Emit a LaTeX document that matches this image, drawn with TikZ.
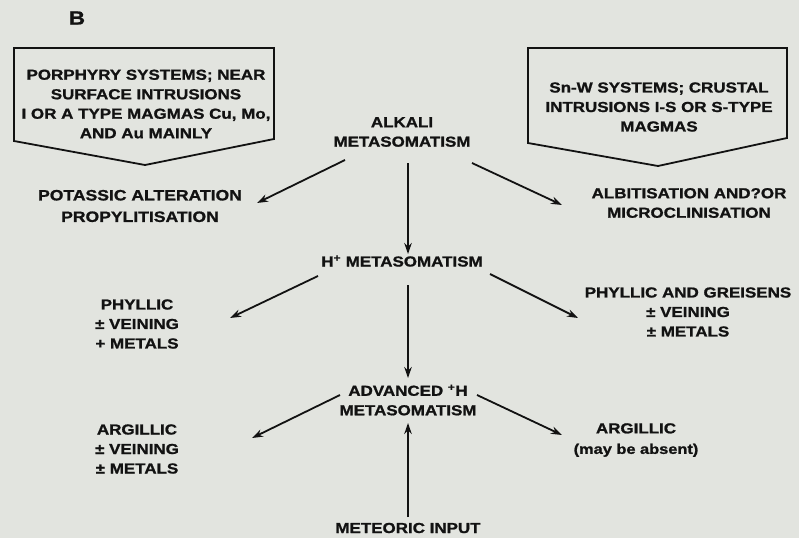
\documentclass[tikz,border=0pt]{standalone}
\usepackage{fontspec}
\setmainfont[FakeStretch=1.17, BoldFeatures={FakeBold=1.2}]{Liberation Sans}
\usetikzlibrary{arrows.meta}
\definecolor{paper}{RGB}{226,228,223}
\definecolor{ink}{RGB}{18,18,18}
\tikzset{>={Stealth[length=11pt,width=7.5pt]},
  lbl/.style={font=\fontsize{14.5}{19.5}\selectfont\bfseries, align=center, inner sep=0pt, text=ink},
  arr/.style={->, line width=1.8pt, draw=ink},
  frame/.style={line width=1.8pt, draw=ink, line join=miter}}

\begin{document}
\begin{tikzpicture}[x=1pt,y=-1pt]
\fill[paper] (0,0) rectangle (799,538);
\useasboundingbox (0,0) rectangle (799,538);
% heading and source boxes
\node[lbl, font=\fontsize{19}{20}\selectfont\bfseries] (B) at (77,18) {B};
\draw[frame] (14,48) -- (274,48) -- (274,139) -- (145,165) -- (14,141) -- cycle;
\draw[frame] (528,48) -- (787,48) -- (787,138) -- (658,166) -- (528,143) -- cycle;
\node[lbl] (lbox) at (146,104) {PORPHYRY SYSTEMS; NEAR\\SURFACE INTRUSIONS\\I OR A TYPE MAGMAS Cu, Mo,\\AND Au MAINLY};
\node[lbl] (rbox) at (659,107) {Sn-W SYSTEMS; CRUSTAL\\INTRUSIONS I-S OR S-TYPE\\MAGMAS};
% centre column
\node[lbl] (alkali) at (402,132) {ALKALI\\METASOMATISM};
\node[lbl] (hplus) at (402,261) {H\textsuperscript{+} METASOMATISM};
\node[lbl] (adv) at (408,400) {ADVANCED \textsuperscript{+}H\\METASOMATISM};
\node[lbl] (meteor) at (408,528) {METEORIC INPUT};
% products
\node[lbl, font=\fontsize{15}{19.5}\selectfont\bfseries] (potassic) at (140,206) {POTASSIC ALTERATION\\[2pt]PROPYLITISATION};
\node[lbl] (albit) at (689,203) {ALBITISATION AND?OR\\MICROCLINISATION};
\node[lbl] (phyl) at (137,324) {PHYLLIC\\± VEINING\\+ METALS};
\node[lbl] (phylg) at (688,312) {PHYLLIC AND GREISENS\\± VEINING\\± METALS};
\node[lbl] (argl) at (137,449) {ARGILLIC\\± VEINING\\± METALS};
\node[lbl] (argr) at (636,440) {ARGILLIC\\[1pt]{\fontsize{14}{15}\selectfont (may be absent)}};
% arrows
\draw[arr] ([shift={(-57,28)}]alkali.center) -- ([shift={(117,-3)}]potassic.center);
\draw[arr] ([shift={(6,31)}]alkali.center) -- ([shift={(6,-7)}]hplus.center);
\draw[arr] ([shift={(70,31)}]alkali.center) -- ([shift={(-127,2)}]albit.center);
\draw[arr] ([shift={(-84,15)}]hplus.center) -- ([shift={(93,-6)}]phyl.center);
\draw[arr] ([shift={(88,13)}]hplus.center) -- ([shift={(-110,6)}]phylg.center);
\draw[arr] ([shift={(6,24)}]hplus.center) -- ([shift={(0,-22)}]adv.center);
\draw[arr] ([shift={(-68,-5)}]adv.center) -- ([shift={(115,-11)}]argl.center);
\draw[arr] ([shift={(69,-5)}]adv.center) -- ([shift={(-74,-5)}]argr.center);
\draw[arr] ([shift={(0,-11)}]meteor.center) -- ([shift={(0,23)}]adv.center);
\end{tikzpicture}
\end{document}
